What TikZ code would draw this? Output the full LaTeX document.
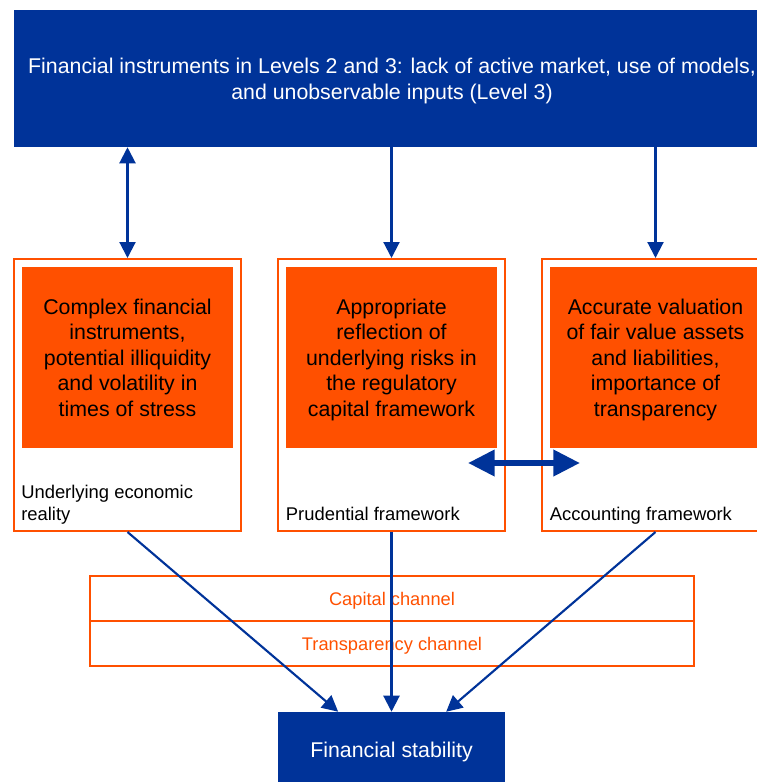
\documentclass[tikz,border=0pt]{standalone}
\usepackage{fontspec}
\setmainfont{Liberation Sans}
\usetikzlibrary{arrows.meta}

\definecolor{ecbblue}{RGB}{0,51,153}
\definecolor{ecborange}{RGB}{255,80,0}

\begin{document}
\begin{tikzpicture}[x=0.75pt, y=-0.75pt,
    bluebox/.style={fill=ecbblue, text=white, inner sep=0pt, align=center, text depth=0pt},
    framebox/.style={draw=ecborange, line width=1.5pt, fill=white, inner sep=0pt,
                     minimum width=170.25pt, minimum height=204pt},
    issuebox/.style={fill=ecborange, text=black, inner sep=0pt, align=center, text depth=0pt,
                     minimum width=158.25pt, minimum height=135.75pt,
                     font=\fontsize{16}{19.2}\selectfont},
    framelabel/.style={anchor=south west, inner sep=0pt, align=left, text depth=3pt,
                       font=\fontsize{13.8}{17}\selectfont},
    channelbox/.style={draw=ecborange, line width=1.5pt, text=ecborange, inner sep=0pt,
                       minimum width=453pt, minimum height=33.75pt, text depth=0pt,
                       font=\fontsize{13.7}{16}\selectfont},
    flow/.style={ecbblue, line width=1.6pt}]

                \useasboundingbox (0,0) rectangle (757,782);
                \clip (0,0) rectangle (757,782);

                % Top box (Blue)
                \node[bluebox, minimum width=567pt, minimum height=102.75pt,
                      font=\fontsize{16}{19.5}\selectfont] (levels) at (392,78.5)
                    {Financial instruments in Levels 2 and 3: lack of active market, use of models,\\
                     and unobservable inputs (Level 3)};

                % Three frameworks (Orange frame)
                \node[framebox] (econ) at (127.5,395) {};
                \node[framebox] (pru) at (391.5,395) {};
                \node[framebox] (acc) at (655.5,395) {};

                % Issues (Orange fill)
                \node[issuebox] (econissue) at (127.5,357.5)
                    {Complex financial\\instruments,\\potential illiquidity\\and volatility in\\times of stress};
                \node[issuebox] (pruissue) at (391.5,357.5)
                    {Appropriate\\reflection of\\underlying risks in\\the regulatory\\capital framework};
                \node[issuebox] (accissue) at (655.5,357.5)
                    {Accurate valuation\\of fair value assets\\and liabilities,\\importance of\\transparency};

                % Framework names
                \node[framelabel] (econname) at ([xshift=6pt, yshift=5.25pt]econ.south west)
                    {Underlying economic\\reality};
                \node[framelabel] (pruname) at ([xshift=6.5pt, yshift=5.25pt]pru.south west)
                    {Prudential framework};
                \node[framelabel] (accname) at ([xshift=6.5pt, yshift=5.25pt]acc.south west)
                    {Accounting framework};

                % Channels
                \node[channelbox] (capital) at (392,598.5) {Capital channel};
                \node[channelbox] (transp) at (392,643.5) {Transparency channel};

                % Bottom box (Blue)
                \node[bluebox, minimum width=170.25pt, minimum height=57pt,
                      font=\fontsize{16}{19}\selectfont] (stab) at (391.5,750) {Financial stability};

                % Arrows from the top box
                \draw[flow, {Triangle[length=12pt, width=12pt]}-{Triangle[length=12pt, width=12pt]}]
                    (levels.south -| econ.north) -- (econ.north);
                \draw[flow, -{Triangle[length=12pt, width=12pt]}] (levels.south -| pru.north) -- (pru.north);
                \draw[flow, -{Triangle[length=12pt, width=12pt]}] (levels.south -| acc.north) -- (acc.north);

                % Prudential <-> accounting
                \coordinate (prutip) at (468,463);
                \coordinate (acctip) at (580,463);
                \draw[ecbblue, line width=4.5pt,
                      {Triangle[length=20pt, width=19pt]}-{Triangle[length=20pt, width=19pt]}] (prutip) -- (acctip);

                % Arrows to financial stability
                \draw[flow, -{Triangle[length=12pt, width=12pt]}] (econ.south) -- ([xshift=-40pt]stab.north);
                \draw[flow, -{Triangle[length=12pt, width=12pt]}] (pru.south) -- (stab.north);
                \draw[flow, -{Triangle[length=12pt, width=12pt]}] (acc.south) -- ([xshift=41pt]stab.north);
            \end{tikzpicture}
\end{document}
